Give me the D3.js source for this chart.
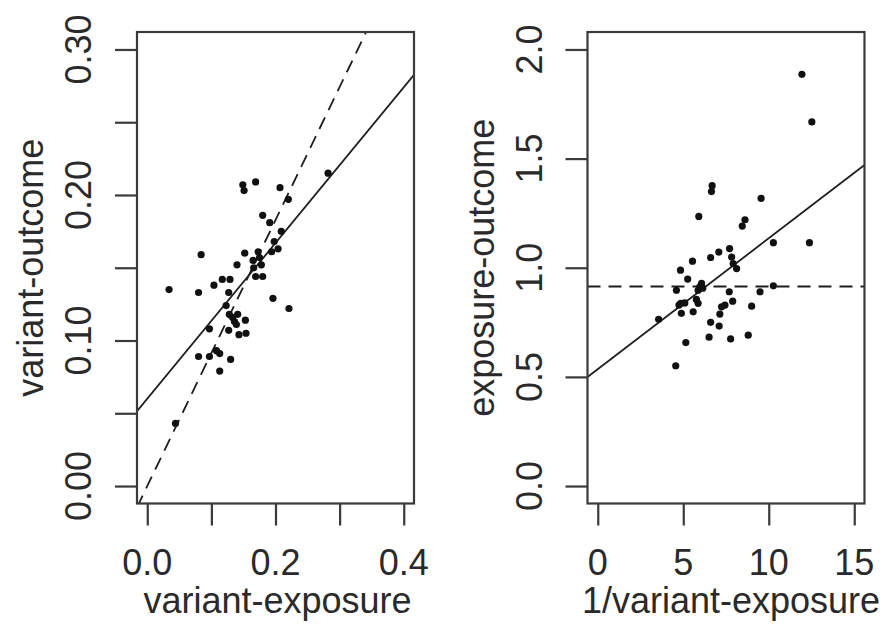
<!DOCTYPE html>
<meta charset="utf-8">
<style>

body {
  margin: 0;
  background: #fff;
}

text {
  font-family: "Liberation Sans", Arial, sans-serif;
  font-size: 36px;
  fill: #2a2a2a;
}

.frame {
  fill: none;
  stroke: #3a3a3a;
  stroke-width: 2.2px;
}

.tick line {
  stroke: #3a3a3a;
  stroke-width: 2.2px;
}

.fit {
  fill: none;
  stroke: #1e1e1e;
  stroke-width: 1.8px;
}

.dashed {
  stroke-dasharray: 13,8;
}

</style>
<body>
    <script src="https://d3js.org/d3.v7.min.js"></script>
    <script>
        // left panel: variant-exposure (x) vs variant-outcome (y)
        const bx = [0.034, 0.080, 0.084, 0.104, 0.117, 0.129, 0.127, 0.123, 0.140, 0.152,
                    0.149, 0.151, 0.169, 0.207, 0.220, 0.180, 0.191, 0.209, 0.198, 0.204,
                    0.194, 0.173, 0.175, 0.165, 0.178, 0.166, 0.169, 0.180, 0.196, 0.221,
                    0.282, 0.097, 0.128, 0.136, 0.139, 0.153, 0.127, 0.143, 0.154, 0.080,
                    0.097, 0.108, 0.113, 0.130, 0.113, 0.044, 0.133, 0.141];
        const by = [0.135, 0.133, 0.159, 0.138, 0.142, 0.142, 0.133, 0.124, 0.152, 0.160,
                    0.207, 0.203, 0.209, 0.205, 0.197, 0.186, 0.181, 0.175, 0.168, 0.163,
                    0.161, 0.161, 0.157, 0.155, 0.152, 0.150, 0.144, 0.144, 0.129, 0.122,
                    0.215, 0.108, 0.118, 0.113, 0.111, 0.114, 0.107, 0.104, 0.105, 0.089,
                    0.089, 0.093, 0.091, 0.087, 0.079, 0.043, 0.116, 0.118];

        // right panel: 1/variant-exposure (x) vs exposure-outcome (y)
        const invBx = [11.94, 12.52, 6.69, 6.65, 5.91, 9.55, 8.61, 8.45, 10.27, 12.38,
                       7.71, 7.08, 6.60, 5.54, 4.84, 7.83, 7.92, 8.12, 5.26, 6.07,
                       5.97, 5.87, 6.14, 4.60, 7.69, 9.49, 10.27, 5.77, 5.87, 4.85,
                       5.09, 4.75, 7.89, 7.44, 7.24, 9.00, 7.14, 5.58, 4.89, 3.56,
                       6.60, 7.10, 5.15, 6.51, 7.77, 8.80, 4.56];
        const ratio = [1.886, 1.668, 1.376, 1.349, 1.235, 1.318, 1.220, 1.191, 1.115, 1.115,
                       1.088, 1.072, 1.047, 1.030, 0.989, 1.049, 1.019, 0.996, 0.948, 0.928,
                       0.912, 0.897, 0.906, 0.897, 0.890, 0.890, 0.917, 0.855, 0.837, 0.837,
                       0.839, 0.829, 0.847, 0.829, 0.821, 0.824, 0.788, 0.798, 0.791, 0.764,
                       0.750, 0.733, 0.657, 0.682, 0.674, 0.691, 0.551];

        // fitted lines
        const eggerIntercept = 0.06,
              eggerSlope = 0.535,
              ivwEstimate = 0.914;

        // axes
        const leftXTicks = [0, 0.1, 0.2, 0.3, 0.4],
              leftXLabels = [0, 0.2, 0.4],
              leftYTicks = [0, 0.05, 0.1, 0.15, 0.2, 0.25, 0.3],
              leftYLabels = [0, 0.1, 0.2, 0.3],
              rightXTicks = [0, 5, 10, 15],
              rightXLabels = [0, 5, 10, 15],
              rightYTicks = [0, 0.5, 1, 1.5, 2],
              rightYLabels = [0, 0.5, 1, 1.5, 2];

        let width = 880,
            height = 627,
            boxW = 277,
            boxTop = 32,
            boxBottom = 503.5;

        let svg = d3.select("body").append("svg")
                    .attr("width", width)
                    .attr("height", height);

        // R style 4% padding on each side
        function rLim(lo, hi) {
            let d = (hi - lo) * 0.04;
            return [lo - d, hi + d];
        }

        function drawPanel(opts) {
            let g = svg.append("g")
                        .attr("transform", `translate(${opts.left},0)`);

            let x = d3.scaleLinear().domain(rLim(...opts.xlim)).range([0, boxW]),
                y = d3.scaleLinear().domain(rLim(...opts.ylim)).range([boxBottom, boxTop]);

            let clipId = "clip" + Math.round(opts.left);
            g.append("clipPath").attr("id", clipId)
                .append("rect")
                    .attr("x", 0).attr("y", boxTop)
                    .attr("width", boxW).attr("height", boxBottom - boxTop);

            // tick marks (the frame is the axis line)
            g.append("g")
                .attr("transform", `translate(0,${boxBottom})`)
                .call(d3.axisBottom(x).tickValues(opts.xTicks).tickSize(22).tickFormat(""))
                .call(a => a.select(".domain").remove());
            g.append("g")
                .call(d3.axisLeft(y).tickValues(opts.yTicks).tickSize(22).tickFormat(""))
                .call(a => a.select(".domain").remove());

            g.append("g").selectAll("text")
                .data(opts.xLabels)
                .join("text")
                    .attr("x", d => x(d))
                    .attr("y", boxBottom + 71)
                    .attr("text-anchor", "middle")
                    .text(opts.xFormat);

            g.append("g").selectAll("text")
                .data(opts.yLabels)
                .join("text")
                    .attr("transform", d => `translate(-46,${y(d)}) rotate(-90)`)
                    .attr("text-anchor", "middle")
                    .text(opts.yFormat);

            // axis titles
            g.append("text")
                .attr("x", boxW / 2 + opts.titleShift)
                .attr("y", 613)
                .attr("text-anchor", "middle")
                .text(opts.xTitle);
            g.append("text")
                .attr("transform", `translate(-94,${(boxTop + boxBottom) / 2}) rotate(-90)`)
                .attr("text-anchor", "middle")
                .text(opts.yTitle);

            let plot = g.append("g").attr("clip-path", `url(#${clipId})`);

            let line = d3.line().x(d => x(d[0])).y(d => y(d[1]));
            let xd = x.domain();
            plot.append("path")
                .attr("class", "fit")
                .attr("d", line(xd.map(v => [v, opts.solid(v)])));
            plot.append("path")
                .attr("class", "fit dashed")
                .attr("d", line(xd.map(v => [v, opts.dashed(v)])));

            plot.append("g")
                .selectAll("circle")
                .data(d3.zip(opts.xs, opts.ys))
                .join("circle")
                    .attr("cx", d => x(d[0]))
                    .attr("cy", d => y(d[1]))
                    .attr("r", 3.6)
                    .attr("fill", "#111");

            g.append("rect")
                .attr("class", "frame")
                .attr("x", 0).attr("y", boxTop)
                .attr("width", boxW).attr("height", boxBottom - boxTop);
        }

        drawPanel({
            left: 137,
            xlim: [0, 0.4], ylim: [0, 0.3],
            xTicks: leftXTicks, xLabels: leftXLabels, xFormat: d3.format(".1f"),
            yTicks: leftYTicks, yLabels: leftYLabels, yFormat: d3.format(".2f"),
            xTitle: "variant-exposure", yTitle: "variant-outcome", titleShift: 2,
            xs: bx, ys: by,
            solid: v => eggerIntercept + eggerSlope * v,
            dashed: v => ivwEstimate * v
        });

        drawPanel({
            left: 587.5,
            xlim: [0, 15], ylim: [0, 2],
            xTicks: rightXTicks, xLabels: rightXLabels, xFormat: d3.format("d"),
            yTicks: rightYTicks, yLabels: rightYLabels, yFormat: d3.format(".1f"),
            xTitle: "1/variant-exposure", yTitle: "exposure-outcome", titleShift: 5,
            xs: invBx, ys: ratio,
            solid: v => eggerSlope + eggerIntercept * v,
            dashed: v => ivwEstimate
        });
</script>
